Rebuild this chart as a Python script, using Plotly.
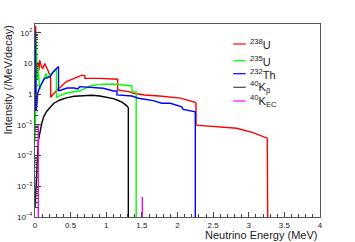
import plotly.graph_objects as go

# ---------------- data ----------------
u238_E = [0.0, 0.004, 0.008, 0.015, 0.03, 0.045, 0.055, 0.066, 0.09, 0.11, 0.136, 0.18, 0.22, 0.22,
          0.3, 0.44, 0.55, 0.63, 0.66, 0.70, 0.70, 0.9, 1.16, 1.16, 1.25, 1.33, 1.38, 1.45, 1.54,
          1.75, 2.04, 2.25, 2.26, 2.26, 2.6, 2.83, 3.06, 3.26, 3.27]
u238_I = [10, 40, 170, 12, 8, 11, 6, 13, 8, 7, 10, 6.2, 3.5, 0.8,
          1.3, 2.6, 3.4, 4.0, 4.2, 4.0, 3.3, 3.3, 3.1, 1.38, 1.3, 1.2, 1.08, 1.0, 0.95,
          0.88, 0.75, 0.55, 0.5, 0.098, 0.088, 0.078, 0.056, 0.037, 1e-6]

u235_E = [0.0, 0.006, 0.012, 0.018, 0.025, 0.035, 0.042, 0.066, 0.1, 0.16, 0.17, 0.2, 0.26,
          0.30, 0.30, 0.44, 0.63, 0.77, 0.91, 1.1, 1.24, 1.36, 1.36, 1.42, 1.42]
u235_I = [0.03, 0.1, 0.3, 58, 4, 3, 8, 1.4, 2.5, 4.8, 3.2, 4.0, 5.5,
          6.2, 0.8, 1.1, 1.3, 1.86, 2.1, 2.17, 2.0, 1.86, 1.2, 1.2, 1e-6]

th232_E = [0.0, 0.003, 0.008, 0.018, 0.04, 0.07, 0.1, 0.136, 0.21, 0.26, 0.33, 0.33, 0.38, 0.45,
           0.55, 0.6, 0.63, 0.96, 1.10, 1.15, 1.15, 1.36, 1.45, 1.66, 1.78, 1.9, 2.06, 2.08, 2.25, 2.25]
th232_I = [0.3, 110, 10, 0.3, 1.1, 1.8, 2.5, 3.3, 3.7, 5.5, 8.0, 1.3, 1.4, 1.6,
           1.6, 1.5, 1.77, 1.57, 1.28, 1.28, 0.95, 0.88, 0.74, 0.62, 0.51, 0.51, 0.39, 0.32, 0.27, 1e-6]

k40b_E = [0.0, 0.012, 0.024, 0.046, 0.094, 0.12, 0.16, 0.21, 0.26, 0.35, 0.44, 0.55, 0.68,
          0.8, 0.91, 1.0, 1.1, 1.15, 1.22, 1.29, 1.31, 1.31]
k40b_I = [2e-4, 0.001, 0.006, 0.03, 0.11, 0.18, 0.27, 0.36, 0.5, 0.65, 0.76, 0.86, 0.92,
          0.93, 0.88, 0.82, 0.72, 0.65, 0.55, 0.42, 0.36, 1e-6]

k40ec_E = [0.046, 0.046, None, 1.506, 1.506]
k40ec_I = [1e-6, 0.1, None, 1e-6, 4.5e-4]

series_names = ["<sup>238</sup>U", "<sup>235</sup>U", "<sup>232</sup>Th",
                "<sup>40</sup>K<sub>β</sub>", "<sup>40</sup>K<sub>EC</sub>"]
series_colors = ["#ff0000", "#00ff00", "#0000ff", "#000000", "#ff00ff"]

x_ticks = [0, 0.5, 1, 1.5, 2, 2.5, 3, 3.5, 4]
x_ticklabels = ["0", "0.5", "1", "1.5", "2", "2.5", "3", "3.5", "4"]
y_ticks = [1e-4, 1e-3, 1e-2, 1e-1, 1, 10, 100]
y_ticklabels = ["10<sup>−4</sup>", "10<sup>−3</sup>", "10<sup>−2</sup>", "10<sup>−1</sup>",
                "1", "10", "10<sup>2</sup>"]

# ---------------- figure ----------------
FONT = "Liberation Sans, Arial, Helvetica, sans-serif"
fig = go.Figure()
data = [(u238_E, u238_I), (u235_E, u235_I), (th232_E, th232_I), (k40b_E, k40b_I), (k40ec_E, k40ec_I)]
for (xs, ys), name, col in zip(data, series_names, series_colors):
    fig.add_trace(go.Scatter(x=xs, y=ys, mode="lines", name=name,
                             line=dict(color=col, width=1.4), showlegend=False,
                             connectgaps=False))

minor_y = [m * 10 ** d for d in range(-4, 3) for m in range(2, 10)]

fig.update_layout(
    width=355, height=242, autosize=False,
    margin=dict(l=35, r=35, t=24, b=25, autoexpand=False),
    paper_bgcolor="white", plot_bgcolor="white",
    font=dict(family=FONT, size=8, color="#222"),
    xaxis=dict(range=[0, 4], tickvals=x_ticks, ticktext=x_ticklabels, automargin=False,
               ticks="inside", ticklen=5, tickcolor="#444", tickwidth=1,
               minor=dict(ticks="inside", ticklen=3, dtick=0.1, tickcolor="#444", showgrid=False),
               showline=True, linecolor="#555", linewidth=1, mirror=True,
               showgrid=False, zeroline=False, tickfont=dict(size=8)),
    yaxis=dict(type="log", range=[-4, 2.29], tickvals=y_ticks, ticktext=y_ticklabels, automargin=False,
               ticks="inside", ticklen=6, tickcolor="#444", tickwidth=1,
               minor=dict(ticks="inside", ticklen=3, tickmode="array", tickvals=minor_y,
                          tickcolor="#444", showgrid=False),
               showline=True, linecolor="#555", linewidth=1, mirror=True,
               showgrid=False, zeroline=False, tickfont=dict(size=8)),
)

# axis titles (ROOT style, aligned to axis ends)
fig.add_annotation(text="Neutrino Energy (MeV)", xref="paper", yref="paper",
                   x=1.0, y=-0.093, xanchor="right", yanchor="middle", showarrow=False,
                   font=dict(size=11, family=FONT, color="#222"))
fig.add_annotation(text="Intensity (/MeV/decay)", xref="paper", yref="paper",
                   x=-0.095, y=1.005, xanchor="center", yanchor="top", textangle=-90,
                   showarrow=False, font=dict(size=11, family=FONT, color="#222"))

# legend drawn as short line samples + labels
leg_y_px = [44, 60.7, 73.7, 87.3, 101]
x0 = (233.3 - 35) / 285
x1 = (245.7 - 35) / 285
xt = (247.5 - 35) / 285
for name, col, ypx in zip(series_names, series_colors, leg_y_px):
    yp = (217 - ypx) / 193
    fig.add_shape(type="line", xref="paper", yref="paper", x0=x0, x1=x1, y0=yp, y1=yp,
                  line=dict(color=col if col != "#000000" else "#444", width=1.2))
    fig.add_annotation(text=name, xref="paper", yref="paper", x=xt, y=yp,
                       xanchor="left", yanchor="middle", showarrow=False,
                       font=dict(size=11, family=FONT, color="#222"))

fig.write_html("out.html", config={"displayModeBar": False},
               post_script="document.body.style.margin='0';document.body.style.overflow='hidden';")
